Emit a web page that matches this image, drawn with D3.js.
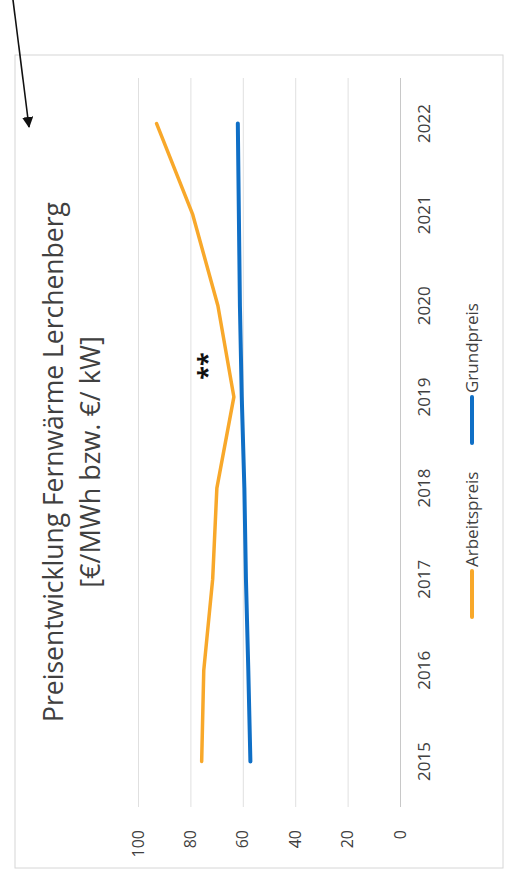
<!DOCTYPE html>
<html>
<head>
<meta charset="utf-8">
<script src="https://cdn.jsdelivr.net/npm/d3@7"></script>
<style>
  body { margin: 0; background: #fff; }
  svg { display: block; font-family: "Open Sans", sans-serif; }
</style>
</head>
<body>
<div id="chart"></div>
<script>
let years = ["2015", "2016", "2017", "2018", "2019", "2020", "2021", "2022"];
let arbeitspreis = [75.7, 74.9, 71.5, 69.9, 63.4, 69.5, 79.1, 92.9];
let grundpreis = [57.1, 57.9, 58.8, 59.4, 60.4, 61.1, 61.5, 61.9];
let valueTicks = [0, 20, 40, 60, 80, 100];
let seriesNames = ["Arbeitspreis", "Grundpreis"];
let colors = ["#f8a82a", "#0f6fc6"];

let W = 508, H = 877;

let svg = d3.select("#chart").append("svg")
    .attr("width", W)
    .attr("height", H);

// the page is photographed turned by 90 degrees, so draw the chart
// normally in an 877 x 508 frame and rotate that group
let g = svg.append("g")
    .attr("transform", "translate(0," + H + ") rotate(-90)");

// chart border
g.append("rect")
    .attr("x", 9)
    .attr("y", 15)
    .attr("width", 813)
    .attr("height", 488)
    .style("fill", "none")
    .style("stroke", "#d6d6d6")
    .style("stroke-width", 1);

let x = d3.scaleBand()
    .domain(years)
    .range([70, 799]);

let y = d3.scaleLinear()
    .domain([0, 100])
    .range([400, 138]);

// gridlines + value labels
let yAxis = d3.axisLeft(y)
    .tickValues(valueTicks)
    .tickSize(-(799 - 70))
    .tickPadding(23);

let yG = g.append("g")
    .attr("transform", "translate(70,0)")
    .call(yAxis);
yG.select(".domain").remove();
yG.selectAll(".tick line")
    .style("stroke", d => d === 0 ? "#c8c8c8" : "#e0e0e0")
    .style("stroke-width", 1);
yG.selectAll(".tick text")
    .style("font-family", "Open Sans, sans-serif")
    .style("font-size", "16px")
    .style("fill", "#404040");

// category labels
let xAxis = d3.axisBottom(x)
    .tickSize(0)
    .tickPadding(18);

let xG = g.append("g")
    .attr("transform", "translate(0,400)")
    .call(xAxis);
xG.select(".domain").remove();
xG.selectAll(".tick text")
    .style("font-family", "Open Sans, sans-serif")
    .style("font-size", "17px")
    .style("fill", "#404040");

// lines
let line = d3.line()
    .x((d, i) => x(years[i]) + x.bandwidth() / 2)
    .y(d => y(d));

[arbeitspreis, grundpreis].forEach(function(series, i) {
    g.append("path")
        .datum(series)
        .attr("d", line)
        .style("fill", "none")
        .style("stroke", colors[i])
        .style("stroke-width", i === 0 ? 3.5 : 4)
        .style("stroke-linecap", "round")
        .style("stroke-linejoin", "round");
});

// title
g.append("text")
    .attr("x", 415)
    .attr("y", 63)
    .style("text-anchor", "middle")
    .style("font-size", "26.5px")
    .style("fill", "#404040")
    .text("Preisentwicklung Fernwärme Lerchenberg");

g.append("text")
    .attr("x", 415)
    .attr("y", 100)
    .style("text-anchor", "middle")
    .style("font-size", "27px")
    .style("fill", "#404040")
    .text("[€/MWh bzw. €/ kW]");

// handwritten-ish marker
g.append("text")
    .attr("x", 511)
    .attr("y", 216)
    .style("text-anchor", "middle")
    .style("font-size", "25px")
    .style("font-weight", "bold")
    .style("fill", "#111")
    .text("**");

// legend
let legendX = [260, 434];
for (let i = 0; i < seriesNames.length; i++) {
    g.append("line")
        .attr("x1", legendX[i])
        .attr("x2", legendX[i] + 46)
        .attr("y1", 472)
        .attr("y2", 472)
        .style("stroke", colors[i])
        .style("stroke-width", 4)
        .style("stroke-linecap", "round");

    g.append("text")
        .attr("x", legendX[i] + 50)
        .attr("y", 478)
        .style("text-anchor", "start")
        .style("font-size", "17px")
        .style("fill", "#404040")
        .text(seriesNames[i]);
}

// arrow drawn on the page (not part of the turned chart)
svg.append("defs").append("marker")
    .attr("id", "head")
    .attr("viewBox", "0 0 10 10")
    .attr("refX", 9)
    .attr("refY", 5)
    .attr("markerWidth", 7)
    .attr("markerHeight", 7)
    .attr("orient", "auto")
    .append("path")
    .attr("d", "M0,0 L10,5 L0,10 z")
    .style("fill", "#111");

svg.append("line")
    .attr("x1", 13)
    .attr("y1", 0)
    .attr("x2", 29)
    .attr("y2", 127)
    .style("stroke", "#111")
    .style("stroke-width", 1.6)
    .attr("marker-end", "url(#head)");
</script>
</body>
</html>
